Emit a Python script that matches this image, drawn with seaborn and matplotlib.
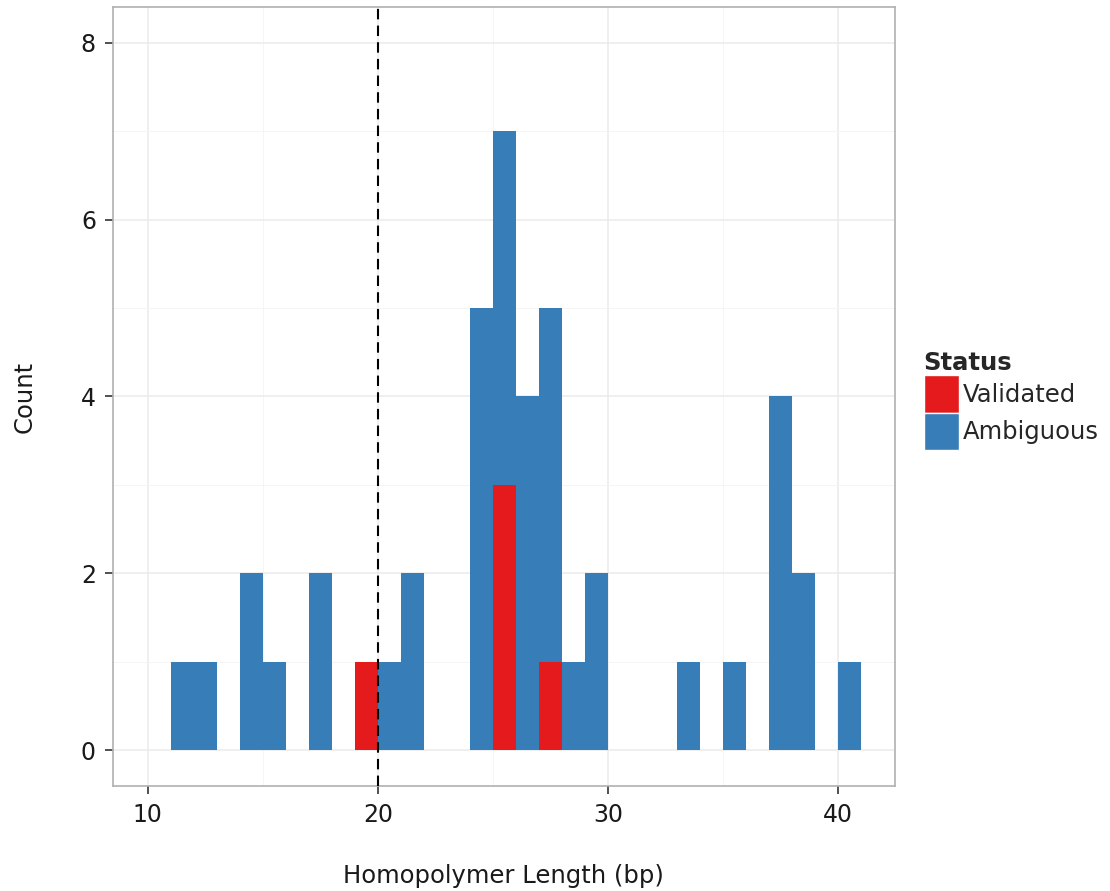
import numpy as np
import pandas as pd
import seaborn as sns
import matplotlib.pyplot as plt
from matplotlib.patches import Patch

# bin start (bp) and counts, binwidth 1
validated_bins = [19, 25, 27]
validated_counts = [1, 3, 1]
ambiguous_bins = [11, 12, 14, 15, 17, 20, 21, 24, 25, 26, 27, 28, 29, 33, 35, 37, 38, 40]
ambiguous_counts = [1, 1, 2, 1, 2, 1, 2, 5, 4, 4, 4, 1, 2, 1, 1, 4, 2, 1]
status_levels = ["Validated", "Ambiguous"]
status_colors = {"Validated": "#E41A1C", "Ambiguous": "#377EB8"}
x_ticks = [10, 20, 30, 40]
y_ticks = [0, 2, 4, 6, 8]
cutoff = 20

df = pd.concat([
    pd.DataFrame({"length": np.array(validated_bins) + 0.5, "count": validated_counts, "Status": "Validated"}),
    pd.DataFrame({"length": np.array(ambiguous_bins) + 0.5, "count": ambiguous_counts, "Status": "Ambiguous"}),
], ignore_index=True)

sns.set_style("white")
plt.rcParams['font.family'] = ['DejaVu Sans']

fig = plt.figure(figsize=(11.1, 8.91), dpi=100)
ax = fig.add_axes([0.1015, 0.118, 0.7045, 0.874])

sns.histplot(data=df, x="length", weights="count", hue="Status",
             hue_order=["Ambiguous", "Validated"], palette=status_colors,
             multiple="stack", binwidth=1, binrange=(11, 41), element="bars",
             linewidth=0, alpha=1, legend=False, ax=ax, zorder=2)

ax.set_xlim(8.48, 42.45)
ax.set_ylim(-0.4, 8.4)
ax.set_xticks(x_ticks)
ax.set_yticks(y_ticks)
ax.set_xticks([15, 25, 35], minor=True)
ax.set_yticks([1, 3, 5, 7], minor=True)
ax.grid(True, which="major", color="#EBEBEB", linewidth=1.1, zorder=0)
ax.grid(True, which="minor", color="#F4F4F4", linewidth=0.6, zorder=0)
ax.set_axisbelow(True)
ax.tick_params(which="major", direction="out", length=6, width=1.2, color="#333333",
               labelsize=17, labelcolor="#1a1a1a", pad=6, bottom=True, left=True)
ax.tick_params(which="minor", length=0)
for s in ax.spines.values():
    s.set_color("#B0B0B0")
    s.set_linewidth(1.2)

ax.axvline(cutoff, color="black", linestyle=(0, (5, 3)), linewidth=1.5, zorder=3)

ax.set_xlabel("Homopolymer Length (bp)", fontsize=17.5, color="#1a1a1a", labelpad=27)
ax.set_ylabel("Count", fontsize=17.5, color="#1a1a1a", labelpad=32)

handles = [Patch(facecolor=status_colors[s], edgecolor="white", label=s) for s in status_levels]
leg = fig.legend(handles=handles, title="Status", loc="upper left",
                 bbox_to_anchor=(0.832, 0.606), frameon=False, fontsize=17.5,
                 title_fontproperties={"weight": "bold", "size": 17.5},
                 handlelength=1.45, handleheight=2.0, handletextpad=0.15,
                 labelspacing=0.0, borderaxespad=0, borderpad=0)
leg._legend_box.align = "left"

fig.savefig("out.png", dpi=100)
